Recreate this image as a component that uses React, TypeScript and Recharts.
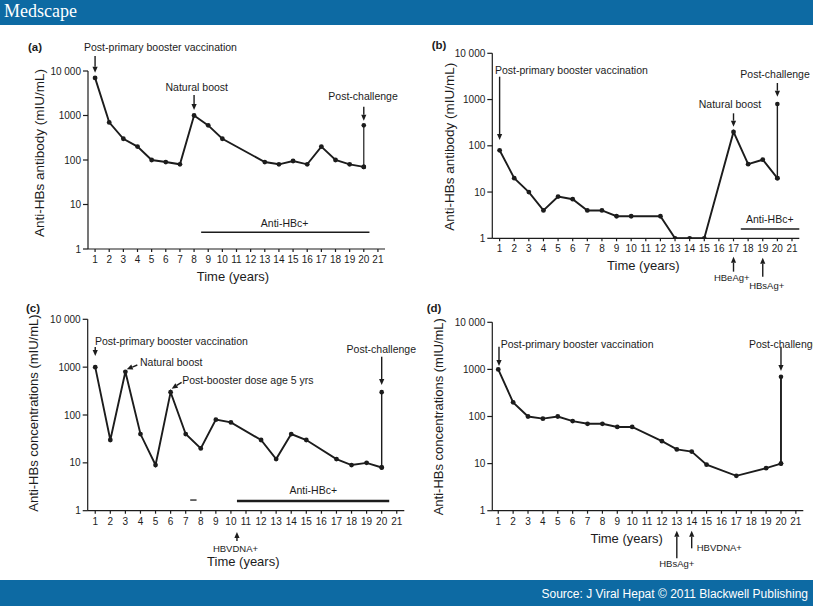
import React from 'react';
import { LineChart, Line, XAxis, YAxis, ReferenceLine, ReferenceDot } from 'recharts';

const FONT = '"Liberation Sans", Arial, Helvetica, sans-serif';
const INK = '#1c1c1c';
const BLUE = '#0d6aa3';

const yearTicks = [1, 2, 3, 4, 5, 6, 7, 8, 9, 10, 11, 12, 13, 14, 15, 16, 17, 18, 19, 20, 21];
const logTicks = [1, 10, 100, 1000, 10000];

// (a)
const yearsA = [1, 2, 3, 4, 5, 6, 7, 8, 9, 10, 13, 14, 15, 16, 17, 18, 19, 20];
const valuesA = [7000, 700, 300, 200, 100, 90, 80, 1000, 600, 300, 90, 80, 95, 80, 200, 100, 80, 70];
const challengeA = [70, 600];

// (b)
const yearsB = [1, 2, 3, 4, 5, 6, 7, 8, 9, 10, 12, 13, 14, 15, 17, 18, 19, 20];
const valuesB = [80, 20, 10, 4, 8, 7, 4, 4, 3, 3, 3, 1, 1, 1, 200, 40, 50, 20];
const challengeB = [20, 800];

// (c)
const yearsC = [1, 2, 3, 4, 5, 6, 7, 8, 9, 10, 12, 13, 14, 15, 17, 18, 19, 20];
const valuesC = [1000, 30, 800, 40, 9, 300, 40, 20, 80, 70, 30, 12, 40, 30, 12, 9, 10, 8];
const challengeC = [8, 300];

// (d)
const yearsD = [1, 2, 3, 4, 5, 6, 7, 8, 9, 10, 12, 13, 14, 15, 17, 19, 20];
const valuesD = [1000, 200, 100, 90, 100, 80, 70, 70, 60, 60, 30, 20, 18, 9.5, 5.5, 8, 10];
const challengeD = [10, 700];

const challengeYear = 20;

type Note = { t: number; v: number; text: string; anchor?: 'start' | 'middle' | 'end'; size?: number; rotate?: boolean };
type Arrow = { t1: number; v1: number; t2: number; v2: number };
type Bar = { t1: number; t2: number; v: number; w: number };

const PPBV = 'Post-primary booster vaccination';

const notesA: Note[] = [
  { t: 0.22, v: 28800, text: PPBV, anchor: 'start' },
  { t: 8.19, v: 3550, text: 'Natural boost' },
  { t: 19.95, v: 2185, text: 'Post-challenge' },
  { t: 14.4, v: 3.17, text: 'Anti-HBc+' },
  { t: 10.75, v: 0.187, text: 'Time (years)', size: 13 },
  { t: -2.58, v: 144, text: 'Anti-HBs antibody (mIU/mL)', size: 13.5, rotate: true },
];
const arrowsA: Arrow[] = [
  { t1: 1, v1: 21700, t2: 1, v2: 9160 },
  { t1: 8, v1: 2890, t2: 8, v2: 1330 },
  { t1: 20, v1: 1578, t2: 20, v2: 764 },
];
const barsA: Bar[] = [{ t1: 8.5, t2: 20.4, v: 2.37, w: 1.5 }];

const notesB: Note[] = [
  { t: 0.68, v: 3500, text: PPBV, anchor: 'start' },
  { t: 16.76, v: 667, text: 'Natural boost' },
  { t: 19.84, v: 2924, text: 'Post-challenge' },
  { t: 19.48, v: 2.14, text: 'Anti-HBc+' },
  { t: 16.88, v: 0.1217, text: 'HBeAg+', size: 9.5 },
  { t: 19.27, v: 0.0789, text: 'HBsAg+', size: 9.5 },
  { t: 10.83, v: 0.202, text: 'Time (years)', size: 13 },
  { t: -2.09, v: 95.6, text: 'Anti-HBs antibody (mIU/mL)', size: 13.5, rotate: true },
];
const arrowsB: Arrow[] = [
  { t1: 1, v1: 3120, t2: 1, v2: 133 },
  { t1: 17, v1: 504, t2: 17, v2: 259 },
  { t1: 20, v1: 2280, t2: 20, v2: 1153 },
  { t1: 17, v1: 0.19, t2: 17, v2: 0.4 },
  { t1: 19, v1: 0.148, t2: 19, v2: 0.381 },
];
const barsB: Bar[] = [{ t1: 17.5, t2: 21.5, v: 1.59, w: 1.5 }];

const notesC: Note[] = [
  { t: 0.98, v: 2945, text: PPBV, anchor: 'start' },
  { t: 3.97, v: 1037, text: 'Natural boost', anchor: 'start' },
  { t: 6.77, v: 436, text: 'Post-booster dose age 5 yrs', anchor: 'start' },
  { t: 17.67, v: 1977, text: 'Post-challenge', anchor: 'start' },
  { t: 15.46, v: 2.27, text: 'Anti-HBc+' },
  { t: 10.3, v: 0.1397, text: 'HBVDNA+', size: 9.5 },
  { t: 10.82, v: 0.0685, text: 'Time (years)', size: 13 },
  { t: -2.81, v: 110, text: 'Anti-HBs concentrations (mIU/mL)', size: 13, rotate: true },
];
const arrowsC: Arrow[] = [
  { t1: 1, v1: 2636, t2: 1, v2: 1710 },
  { t1: 3.79, v1: 1110, t2: 3.09, v2: 902 },
  { t1: 6.73, v1: 482, t2: 6.07, v2: 355 },
  { t1: 20, v1: 1652, t2: 20, v2: 424 },
  { t1: 10.4, v1: 0.232, t2: 10.4, v2: 0.359 },
];
const barsC: Bar[] = [
  { t1: 10.4, t2: 20.5, v: 1.6, w: 2.5 },
  { t1: 7.3, t2: 7.72, v: 1.67, w: 1.3 },
];

const notesD: Note[] = [
  { t: 1.16, v: 2890, text: PPBV, anchor: 'start' },
  { t: 17.85, v: 2890, text: 'Post-challenge', anchor: 'start' },
  { t: 13.0, v: 0.065, text: 'HBsAg+', size: 9.5 },
  { t: 14.34, v: 0.139, text: 'HBVDNA+', size: 9.5, anchor: 'start' },
  { t: 9.63, v: 0.206, text: 'Time (years)', size: 13 },
  { t: -2.73, v: 99, text: 'Anti-HBs concentrations (mIU/mL)', size: 13, rotate: true },
];
const arrowsD: Arrow[] = [
  { t1: 1.05, v1: 3034, t2: 1.05, v2: 1180 },
  { t1: 20, v1: 3034, t2: 20, v2: 925 },
  { t1: 13, v1: 0.0976, t2: 13, v2: 0.376 },
  { t1: 14, v1: 0.159, t2: 14, v2: 0.376 },
];

const toRows = (years: number[], values: number[]) => years.map((t, i) => ({ t, v: values[i] }));
const challengeRows = (values: number[]) => values.map((v) => ({ t: challengeYear, v }));
// non-breaking space so the label stays on one line
const fmtLog = (v: number) => (v === 10000 ? '10\u00a0000' : String(v));

const ArrowShape = (p: any) => {
  const { x1, y1, x2, y2 } = p;
  const dx = x2 - x1;
  const dy = y2 - y1;
  const len = Math.hypot(dx, dy) || 1;
  const ux = dx / len;
  const uy = dy / len;
  const hl = 6;
  const hw = 2.6;
  const bx = x2 - ux * hl;
  const by = y2 - uy * hl;
  return (
    <g>
      <line x1={x1} y1={y1} x2={bx} y2={by} stroke={INK} strokeWidth={1.4} />
      <polygon points={`${x2},${y2} ${bx - uy * hw},${by + ux * hw} ${bx + uy * hw},${by - ux * hw}`} fill={INK} />
    </g>
  );
};

type Box = { x: number; y: number; w: number; h: number };
type Plot = { x0: number; x1: number; y0: number; y1: number };

const Panel: React.FC<{
  box: Box;
  plot: Plot;
  domain: [number, number];
  years: number[];
  values: number[];
  challenge: number[];
  challengeWidth: number;
  notes: Note[];
  arrows: Arrow[];
  bars: Bar[];
}> = ({ box, plot, domain, years, values, challenge, challengeWidth, notes, arrows, bars }) => {
  const YW = 40;
  const XH = 20;
  const margin = {
    top: plot.y0 - box.y,
    bottom: box.y + box.h - plot.y1 - XH,
    left: plot.x0 - box.x - YW,
    right: box.x + box.w - plot.x1,
  };
  const tick = { fontSize: 10, fill: INK, fontFamily: FONT };
  return (
    <div style={{ position: 'absolute', left: box.x, top: box.y }}>
      <LineChart width={box.w} height={box.h} margin={margin}>
        <XAxis
          type="number"
          dataKey="t"
          domain={domain}
          ticks={yearTicks}
          interval={0}
          allowDataOverflow
          height={XH}
          tickSize={3}
          tickMargin={4}
          tick={tick}
          stroke={INK}
          strokeWidth={1.2}
        />
        <YAxis
          type="number"
          scale="log"
          domain={[1, 10000]}
          ticks={logTicks}
          interval={0}
          allowDataOverflow
          width={YW}
          tickSize={5}
          tickMargin={2}
          tickFormatter={fmtLog}
          tick={tick}
          stroke={INK}
          strokeWidth={1.2}
        />
        {bars.map((b, i) => (
          <ReferenceLine
            key={'b' + i}
            segment={[{ x: b.t1, y: b.v }, { x: b.t2, y: b.v }]}
            ifOverflow="visible"
            stroke={INK}
            strokeWidth={b.w}
          />
        ))}
        {arrows.map((a, i) => (
          <ReferenceLine
            key={'a' + i}
            segment={[{ x: a.t1, y: a.v1 }, { x: a.t2, y: a.v2 }]}
            ifOverflow="visible"
            shape={(p: any) => <ArrowShape {...p} />}
          />
        ))}
        <Line
          data={challengeRows(challenge)}
          dataKey="v"
          type="linear"
          stroke={INK}
          strokeWidth={challengeWidth}
          dot={{ r: 2.3, fill: INK, stroke: INK, strokeWidth: 0 }}
          activeDot={false}
          isAnimationActive={false}
        />
        <Line
          data={toRows(years, values)}
          dataKey="v"
          type="linear"
          stroke={INK}
          strokeWidth={1.9}
          dot={{ r: 2.4, fill: INK, stroke: INK, strokeWidth: 0 }}
          activeDot={false}
          isAnimationActive={false}
        />
        {notes.map((n, i) => (
          <ReferenceDot
            key={'n' + i}
            x={n.t}
            y={n.v}
            r={1}
            ifOverflow="visible"
            shape={(p: any) => (
              <text
                x={p.cx}
                y={p.cy}
                textAnchor={n.anchor ?? 'middle'}
                fontSize={n.size ?? 10.5}
                fontFamily={FONT}
                fill={INK}
                transform={n.rotate ? `rotate(-90 ${p.cx} ${p.cy})` : undefined}
              >
                {n.text}
              </text>
            )}
          />
        ))}
      </LineChart>
    </div>
  );
};

export default function App() {
  return (
    <div style={{ position: 'absolute', left: 0, top: 0, width: 813, height: 606, overflow: 'hidden', background: '#fff' }}>
      <svg width={813} height={606} style={{ position: 'absolute', left: 0, top: 0 }}>
        <rect x={0} y={0} width={813} height={25} fill={BLUE} />
        <text x={4} y={17} fill="#fff" fontSize={18} fontFamily='"Liberation Serif", "DejaVu Serif", serif'>
          Medscape
        </text>
        <rect x={0} y={580} width={813} height={26} fill={BLUE} />
        <text x={808} y={598} fill="#fff" fontSize={12} textAnchor="end" fontFamily={FONT}>
          Source: J Viral Hepat © 2011 Blackwell Publishing
        </text>
        <g fontFamily={FONT} fontWeight="bold" fontSize={11.5} fill={INK}>
          <text x={28} y={50.5}>(a)</text>
          <text x={431.7} y={48.5}>(b)</text>
          <text x={26} y={312}>(c)</text>
          <text x={426.7} y={312}>(d)</text>
        </g>
      </svg>
      <Panel
        box={{ x: 0, y: 24, w: 405, h: 270 }}
        plot={{ x0: 88, x1: 385, y0: 71, y1: 249 }}
        domain={[0.5, 21.5]}
        years={yearsA}
        values={valuesA}
        challenge={challengeA}
        challengeWidth={1.2}
        notes={notesA}
        arrows={arrowsA}
        bars={barsA}
      />
      <Panel
        box={{ x: 405, y: 24, w: 408, h: 272 }}
        plot={{ x0: 492.3, x1: 799.3, y0: 53.3, y1: 238.3 }}
        domain={[0.5, 21.5]}
        years={yearsB}
        values={valuesB}
        challenge={challengeB}
        challengeWidth={1.4}
        notes={notesB}
        arrows={arrowsB}
        bars={barsB}
      />
      <Panel
        box={{ x: 0, y: 290, w: 430, h: 290 }}
        plot={{ x0: 87.7, x1: 404.3, y0: 319.3, y1: 510.7 }}
        domain={[0.5, 21.5]}
        years={yearsC}
        values={valuesC}
        challenge={challengeC}
        challengeWidth={1.4}
        notes={notesC}
        arrows={arrowsC}
        bars={barsC}
      />
      <Panel
        box={{ x: 405, y: 290, w: 408, h: 290 }}
        plot={{ x0: 492.3, x1: 803.3, y0: 322.3, y1: 510.7 }}
        domain={[0.6, 21.5]}
        years={yearsD}
        values={valuesD}
        challenge={challengeD}
        challengeWidth={1.9}
        notes={notesD}
        arrows={arrowsD}
        bars={[]}
      />
    </div>
  );
}
